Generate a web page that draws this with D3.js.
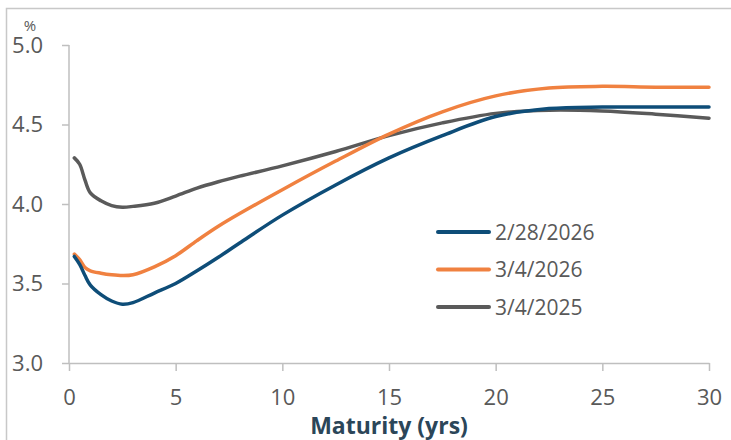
<!DOCTYPE html>
<html><head><meta charset="utf-8">
<script src="https://cdn.jsdelivr.net/npm/d3@7"></script>
<style>
html,body{margin:0;padding:0;background:#fff;}
svg text{font-family:"Open Sans","Noto Sans",sans-serif;}
</style></head>
<body><svg id="c" width="731" height="440"></svg>
<script>
const maturities = [0.25, 0.5, 0.75, 1, 1.5, 2, 2.5, 3, 4, 5, 6, 7, 8, 10, 12.5, 15, 17.5, 20, 22.5, 25, 27.5, 30];
const seriesNames = ["2/28/2026", "3/4/2026", "3/4/2025"];
const feb28_2026 = [3.67, 3.62, 3.55, 3.49, 3.43, 3.39, 3.37, 3.38, 3.44, 3.50, 3.58, 3.665, 3.755, 3.93, 4.12, 4.29, 4.43, 4.55, 4.60, 4.61, 4.61, 4.61];
const mar4_2026 = [3.685, 3.65, 3.60, 3.58, 3.565, 3.555, 3.55, 3.555, 3.605, 3.675, 3.77, 3.86, 3.94, 4.09, 4.27, 4.44, 4.58, 4.68, 4.73, 4.74, 4.735, 4.735];
const mar4_2025 = [4.29, 4.25, 4.15, 4.07, 4.02, 3.99, 3.98, 3.985, 4.005, 4.05, 4.10, 4.14, 4.175, 4.24, 4.33, 4.43, 4.51, 4.57, 4.59, 4.585, 4.565, 4.54];
const xTicks = [0, 5, 10, 15, 20, 25, 30];
const yTicks = [3.0, 3.5, 4.0, 4.5, 5.0];
const colors = ["#0e4d78", "#f08140", "#5a5a5a"];

const svg = d3.select("#c");
// frame
svg.append("rect").attr("x", 6.5).attr("y", 8.5).attr("width", 760).attr("height", 460)
  .attr("fill", "none").attr("stroke", "#c8c8c8").attr("stroke-width", 1.5);

const x = d3.scaleLinear().domain([0, 30]).range([69, 709]);
const y = d3.scaleLinear().domain([3, 5]).range([363, 45]);
const axisColor = "#bfbfbf";
const textColor = "#595959";

const yAxis = svg.append("g").attr("transform", "translate(69,0)")
  .call(d3.axisLeft(y).tickValues(yTicks).tickFormat(d3.format(".1f")).tickSize(7).tickPadding(19));
const xAxis = svg.append("g").attr("transform", "translate(0,363)")
  .call(d3.axisBottom(x).tickValues(xTicks).tickFormat(d3.format("d")).tickSize(8).tickSizeOuter(0).tickPadding(18));
yAxis.select(".domain").attr("d", "M0,363V45").attr("stroke", axisColor).attr("stroke-width", 1.5);
xAxis.select(".domain").attr("stroke", axisColor).attr("stroke-width", 1.5);
[xAxis, yAxis].forEach(a => {
  a.selectAll(".tick line").attr("stroke", axisColor).attr("stroke-width", 1.5);
  a.selectAll(".tick text").attr("fill", textColor).style("font-size", "22px")
    .style("font-family", "'Open Sans','Noto Sans',sans-serif");
});

svg.append("text").attr("x", 30).attr("y", 31).attr("text-anchor", "middle")
  .attr("fill", textColor).style("font-size", "15px").text("%");

svg.append("text").attr("x", 389).attr("y", 434).attr("text-anchor", "middle")
  .attr("fill", "#2b4659").style("font-size", "23px").style("font-weight", "bold").text("Maturity (yrs)");

const allSeries = [feb28_2026, mar4_2026, mar4_2025];
const line = d3.line().x((d, i) => x(maturities[i])).y(d => y(d)).curve(d3.curveCatmullRom.alpha(0.5));
// draw order: gray at back
[2, 1, 0].forEach(k => {
  svg.append("path").datum(allSeries[k]).attr("d", line).attr("fill", "none")
    .attr("stroke", colors[k]).attr("stroke-width", 3.5)
    .attr("stroke-linecap", "round").attr("stroke-linejoin", "round");
});

// legend
const lg = svg.append("g");
seriesNames.forEach((n, k) => {
  const yy = 232 + k * 37.5;
  lg.append("line").attr("x1", 438).attr("x2", 489).attr("y1", yy).attr("y2", yy)
    .attr("stroke", colors[k]).attr("stroke-width", 4).attr("stroke-linecap", "round");
  lg.append("text").attr("x", 495).attr("y", yy).attr("dy", "0.36em")
    .attr("fill", textColor).style("font-size", "21px").text(n);
});
</script></body></html>
